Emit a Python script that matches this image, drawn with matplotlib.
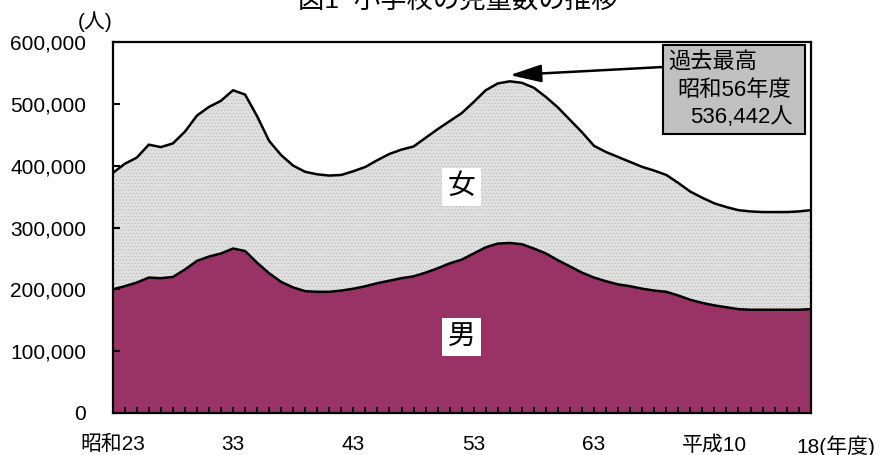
import numpy as np
import matplotlib
matplotlib.use("Agg")
import matplotlib.pyplot as plt
from matplotlib.patches import Rectangle
import matplotlib.transforms as mtransforms

plt.rcParams['font.family'] = ['Liberation Sans', 'Noto Sans CJK JP']
plt.rcParams['hatch.linewidth'] = 0.5

# 年度 (昭和23 = 0 ... 平成18 = 58)
years = np.arange(0, 59)

# 児童数 (人)
boys = np.array([
    200, 205, 211, 219, 218, 220, 232, 246, 253, 258,
    266, 262, 243, 226, 212, 203, 197, 196, 196, 198,
    201, 205, 210, 214, 218, 221, 227, 234, 242, 248,
    258, 268, 274, 275, 273, 266, 258, 247, 237, 227,
    219, 213, 208, 205, 201, 198, 196, 190, 183, 178,
    174, 171, 168, 167, 167, 167, 167, 167, 168,
]) * 1000
girls = np.array([
    188, 198, 202, 215, 212, 216, 223, 235, 242, 247,
    256, 253, 237, 214, 205, 197, 193, 190, 188, 187,
    190, 193, 199, 205, 208, 210, 218, 225, 230, 237,
    245, 254, 259, 261.442, 261, 260, 253, 247, 237, 227,
    213, 209, 206, 201, 197, 194, 189, 182, 175, 170,
    165, 162, 160, 159, 158, 158, 158, 159, 160,
]) * 1000
total = boys + girls

tick_pos = [0, 10, 20, 30, 40, 50, 58]
tick_labels = ['昭和23', '33', '43', '53', '63', '平成10', '18(年度)']

peak_year = 33
peak_label = ['過去最高', '昭和56年度', '536,442人']

fig = plt.figure(figsize=(8.88, 4.55), dpi=100)
W, H = 888, 455
ax = fig.add_axes([112.7 / W, 1 - 413 / H, (810.7 - 112.7) / W, (413 - 42) / H])

# 男子 (下) と 女子 (上) の積み上げ
ax.fill_between(years, 0, boys, facecolor='#993366', edgecolor='none', zorder=1)
ax.fill_between(years, boys, total, facecolor='#e0e0e0', edgecolor='#bdbdbd',
                hatch='.....', linewidth=0, zorder=1)
ax.plot(years, boys, color='black', lw=1.8, zorder=3)
ax.plot(years, total, color='black', lw=1.8, zorder=3)

ax.set_xlim(0, 58)
ax.set_ylim(0, 600000)
ax.set_yticks(np.arange(0, 600001, 100000))
ax.set_yticklabels([f'{v:,}' for v in range(0, 600001, 100000)])
ax.tick_params(axis='y', direction='in', length=5, width=1.5, pad=19, labelsize=15)

# 毎年の目盛と、10年ごとのラベル
ax.set_xticks(years)
labels = [''] * len(years)
for p, t in zip(tick_pos, tick_labels):
    labels[p] = t
ax.set_xticklabels(labels)
ax.tick_params(axis='x', direction='in', length=4, width=1.2, pad=16, labelsize=15)
last = ax.get_xticklabels()[58]
last.set_horizontalalignment('left')
last.set_transform(last.get_transform()
                   + mtransforms.ScaledTranslation(-14 / 100, 0, fig.dpi_scale_trans))

for s in ax.spines.values():
    s.set_linewidth(1.6)
    s.set_zorder(4)

# 単位
fig.text(95 / W, 1 - 22 / H, '(人)', ha='center', va='center', fontsize=15)

# タイトル
fig.text(458 / W, 1 - 8 / H, '図1  小学校の児童数の推移', ha='center', va='baseline', fontsize=19)

# 系列名
ax.text(29, 365500, '女', ha='center', va='center', fontsize=20, zorder=5,
        bbox=dict(facecolor='white', edgecolor='none', pad=4))
ax.text(29, 123000, '男', ha='center', va='center', fontsize=20, zorder=5,
        bbox=dict(facecolor='white', edgecolor='none', pad=4))

# 過去最高の注記
box = Rectangle((663 / W, 1 - 134 / H), 142 / W, 89 / H, transform=fig.transFigure,
                facecolor='#c0c0c0', edgecolor='black', lw=1.5, zorder=6)
fig.add_artist(box)
for (x, y), line in zip([(668, 62), (677, 91), (690, 117)], peak_label):
    fig.text(x / W, 1 - y / H, line, ha='left', va='center', fontsize=16, zorder=7)

ax.annotate('', xy=(peak_year, total[peak_year] + 10000), xycoords='data',
            xytext=(663 / W, 1 - 67 / H), textcoords='figure fraction',
            arrowprops=dict(arrowstyle='-|>,head_length=1.6,head_width=0.45',
                            color='black', lw=1.8, shrinkA=0, shrinkB=0,
                            mutation_scale=12),
            annotation_clip=False, zorder=6)

fig.savefig('out.png', dpi=100)
